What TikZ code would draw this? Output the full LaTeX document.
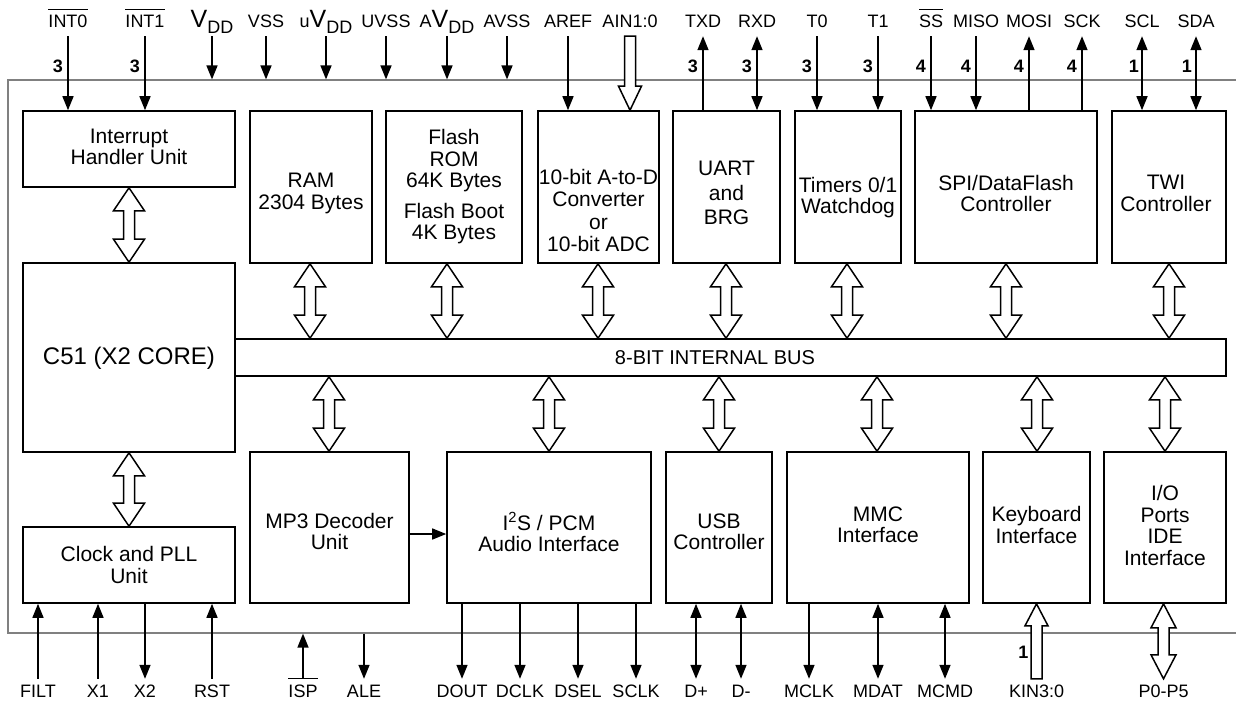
\documentclass[tikz,border=0pt]{standalone}
\usepackage{fontspec}
\setmainfont{Liberation Sans}
\usetikzlibrary{arrows.meta,calc}
\newcommand{\ovl}[1]{\sbox0{#1}\rlap{\rule[\dimexpr\ht0+5pt\relax]{\wd0}{1.1pt}}\usebox0}
\newcommand{\vddlbl}[1]{#1{\fontsize{25}{25}\selectfont V}\raisebox{-6pt}{DD}}
\newcommand{\hdbl}[5]{%
  \coordinate (hx) at (#1,0);
  \coordinate (hT) at (#2.south -| hx);
  \coordinate (hB) at (#3.north -| hx);
  \draw[hollow] (hT) -- ++(#4,#5) -- ++({5.5-#4},0) -- ($(hB)+(5.5,-#5)$) -- ++({#4-5.5},0) -- (hB)
     -- ++(-#4,-#5) -- ++({#4-5.5},0) -- ($(hT)+(-5.5,#5)$) -- ++({5.5-#4},0) -- cycle;}
\tikzset{
 box/.style={draw, line width=1.6pt, inner sep=0pt},
 txt/.style={align=center, font=\fontsize{21}{21.5}\selectfont, inner sep=0pt},
 lbltop/.style={font=\fontsize{18}{18}\selectfont, inner xsep=0pt, inner ysep=8.5pt, text depth=0pt, anchor=base},
 lblbot/.style={font=\fontsize{18}{18}\selectfont, inner xsep=0pt, inner ysep=5pt, text depth=0pt, text height=13pt, anchor=base},
 num/.style={font=\fontsize{18}{18}\selectfont\bfseries, inner sep=0pt, anchor=east},
 sig/.style={line width=1.5pt, -{Triangle[length=14pt,width=11pt]}},
 sigb/.style={line width=1.5pt, {Triangle[length=14pt,width=11pt]}-{Triangle[length=14pt,width=11pt]}},
 hollow/.style={line width=1.5pt, fill=white, line join=miter},
 frame/.style={draw=black!50, line width=1.2pt, inner sep=0pt},
}
\begin{document}
\begin{tikzpicture}[x=1pt,y=-1pt]
\fill[white] (0,0) rectangle (1236,702);
\useasboundingbox (0,0) rectangle (1236,702);
% chip outline
\node[frame, minimum width=1242pt, minimum height=553pt] (chip) at (629,356.5) {};
% blocks
\node[box,minimum width=212pt,minimum height=76pt] (int) at (129,149) {};
\node[box,minimum width=122pt,minimum height=152pt] (ram) at (311,187) {};
\node[box,minimum width=136pt,minimum height=152pt] (flash) at (454,187) {};
\node[box,minimum width=121pt,minimum height=152pt] (adc) at (598.5,187) {};
\node[box,minimum width=107pt,minimum height=152pt] (uart) at (726.5,187) {};
\node[box,minimum width=106pt,minimum height=152pt] (tim) at (848,187) {};
\node[box,minimum width=182pt,minimum height=152pt] (spi) at (1006,187) {};
\node[box,minimum width=114pt,minimum height=152pt] (twi) at (1169,187) {};
\node[box,minimum width=212pt,minimum height=189pt] (c51) at (129,357.5) {};
\node[box,minimum width=991pt,minimum height=37pt] (bus) at (730.5,357.5) {};
\node[box,minimum width=159pt,minimum height=151pt] (mp3) at (329.5,527.5) {};
\node[box,minimum width=204pt,minimum height=151pt] (i2s) at (549,527.5) {};
\node[box,minimum width=106pt,minimum height=151pt] (usb) at (719,527.5) {};
\node[box,minimum width=182pt,minimum height=151pt] (mmc) at (878,527.5) {};
\node[box,minimum width=107pt,minimum height=151pt] (kbd) at (1036.5,527.5) {};
\node[box,minimum width=122pt,minimum height=151pt] (io) at (1165,527.5) {};
\node[box,minimum width=212pt,minimum height=76pt] (clock) at (129,565) {};
% block texts
\node[txt] (int-t) at (129,147) {Interrupt\\Handler Unit};
\node[txt] (ram-t) at (311,193.6) {RAM\\2304 Bytes};
\node[txt] (flash-t) at (454,186.7) {Flash\\ROM\\64K Bytes\\[9pt]Flash Boot\\4K Bytes};
\node[txt] (adc-t) at (598.5,210.5) {10-bit A-to-D\\[1pt]Converter\\[1pt]or\\[1pt]10-bit ADC};
\node[txt] (uart-t) at (726.5,193) {UART\\[3pt]and\\[3pt]BRG};
\node[txt] (tim-t) at (848,197.7) {Timers 0/1\\Watchdog};
\node[txt] (spi-t) at (1006,193.4) {SPI/DataFlash\\Controller};
\node[txt] (twi-t) at (1166,193.4) {TWI\\Controller};
\node[txt,font=\fontsize{24}{24}\selectfont] (c51-t) at (129,358) {C51 (X2 CORE)};
\node[txt,font=\fontsize{20}{20}\selectfont] (bus-t) at (715,357.5) {8-BIT INTERNAL BUS};
\node[txt] (mp3-t) at (329.5,531.6) {MP3 Decoder\\Unit};
\node[txt] (i2s-t) at (549,532) {I\textsuperscript{2}S / PCM\\Audio Interface};
\node[txt] (usb-t) at (719,532) {USB\\Controller};
\node[txt] (mmc-t) at (878,525) {MMC\\Interface};
\node[txt] (kbd-t) at (1036.5,525) {Keyboard\\Interface};
\node[txt] (io-t) at (1165,525.5) {I/O\\Ports\\IDE\\Interface};
\node[txt] (clock-t) at (129,565) {Clock and PLL\\Unit};
% top pin labels
\node[lbltop] (l-int0) at (68,27.5) {\ovl{INT0}};
\node[lbltop] (l-int1) at (145,27.5) {\ovl{INT1}};
\node[lbltop] (l-vdd) at (212,27.5) {\vddlbl{}};
\node[lbltop] (l-vss) at (266,27.5) {VSS};
\node[lbltop] (l-uvdd) at (326,27.5) {\vddlbl{u}};
\node[lbltop] (l-uvss) at (386,27.5) {UVSS};
\node[lbltop] (l-avdd) at (447,27.5) {\vddlbl{A}};
\node[lbltop] (l-avss) at (507,27.5) {AVSS};
\node[lbltop] (l-aref) at (568,27.5) {AREF};
\node[lbltop] (l-ain) at (630,27.5) {AIN1:0};
\node[lbltop] (l-txd) at (703,27.5) {TXD};
\node[lbltop] (l-rxd) at (757,27.5) {RXD};
\node[lbltop] (l-t0) at (817,27.5) {T0};
\node[lbltop] (l-t1) at (878,27.5) {T1};
\node[lbltop] (l-ss) at (931,27.5) {\ovl{SS}};
\node[lbltop] (l-miso) at (976,27.5) {MISO};
\node[lbltop] (l-mosi) at (1029,27.5) {MOSI};
\node[lbltop] (l-sck) at (1082,27.5) {SCK};
\node[lbltop] (l-scl) at (1142,27.5) {SCL};
\node[lbltop] (l-sda) at (1196,27.5) {SDA};
% bottom pin labels
\node[lblbot] (l-filt) at (38,697) {FILT};
\node[lblbot] (l-x1) at (98,697) {X1};
\node[lblbot] (l-x2) at (145,697) {X2};
\node[lblbot] (l-rst) at (212,697) {RST};
\node[lblbot] (l-isp) at (303,697) {\ovl{ISP}};
\node[lblbot] (l-ale) at (364,697) {ALE};
\node[lblbot] (l-dout) at (462,697) {DOUT};
\node[lblbot] (l-dclk) at (520,697) {DCLK};
\node[lblbot] (l-dsel) at (578,697) {DSEL};
\node[lblbot] (l-sclk) at (636,697) {SCLK};
\node[lblbot] (l-dp) at (696,697) {D+};
\node[lblbot] (l-dm) at (741,697) {D-};
\node[lblbot] (l-mclk) at (809,697) {MCLK};
\node[lblbot] (l-mdat) at (878,697) {MDAT};
\node[lblbot] (l-mcmd) at (945,697) {MCMD};
\node[lblbot] (l-kin) at (1036.5,697) {KIN3:0};
\node[lblbot] (l-p) at (1163.5,697) {P0-P5};
% bus widths
\node[num] (n-int0) at (63,66) {3};
\node[num] (n-int1) at (140,66) {3};
\node[num] (n-txd) at (698,66) {3};
\node[num] (n-rxd) at (752,66) {3};
\node[num] (n-t0) at (812,66) {3};
\node[num] (n-t1) at (873,66) {3};
\node[num] (n-ss) at (926,66) {4};
\node[num] (n-miso) at (971,66) {4};
\node[num] (n-mosi) at (1024,66) {4};
\node[num] (n-sck) at (1077,66) {4};
\node[num] (n-scl) at (1139,66) {1};
\node[num] (n-sda) at (1192,66) {1};
\node[num] (n-kin) at (1028.5,652) {1};
% top signals
\draw[sig] (l-int0.south) -- (l-int0.south |- int.north);
\draw[sig] (l-int1.south) -- (l-int1.south |- int.north);
\draw[sig] (l-vdd.south) -- (l-vdd.south |- chip.north);
\draw[sig] (l-vss.south) -- (l-vss.south |- chip.north);
\draw[sig] (l-uvdd.south) -- (l-uvdd.south |- chip.north);
\draw[sig] (l-uvss.south) -- (l-uvss.south |- chip.north);
\draw[sig] (l-avdd.south) -- (l-avdd.south |- chip.north);
\draw[sig] (l-avss.south) -- (l-avss.south |- chip.north);
\draw[sig] (l-aref.south) -- (l-aref.south |- adc.north);
\draw[sig] (l-txd.south |- uart.north) -- (l-txd.south);
\draw[sigb] (l-rxd.south) -- (l-rxd.south |- uart.north);
\draw[sig] (l-t0.south) -- (l-t0.south |- tim.north);
\draw[sig] (l-t1.south) -- (l-t1.south |- tim.north);
\draw[sig] (l-ss.south) -- (l-ss.south |- spi.north);
\draw[sig] (l-miso.south) -- (l-miso.south |- spi.north);
\draw[sig] (l-mosi.south |- spi.north) -- (l-mosi.south);
\draw[sig] (l-sck.south |- spi.north) -- (l-sck.south);
\draw[sigb] (l-scl.south) -- (l-scl.south |- twi.north);
\draw[sigb] (l-sda.south) -- (l-sda.south |- twi.north);
% AIN hollow arrow
\coordinate (ainT) at (l-ain.south);
\coordinate (ainB) at (l-ain.south |- adc.north);
\draw[hollow] ($(ainT)+(-5.5,0)$) -- ($(ainB)+(-5.5,-24)$) -- ++(-6,0) -- (ainB) -- ++(11.5,-24) -- ++(-6,0) -- ($(ainT)+(5.5,0)$) -- cycle;
% bottom signals
\draw[sig] (l-filt.north) -- (l-filt.north |- clock.south);
\draw[sig] (l-x1.north) -- (l-x1.north |- clock.south);
\draw[sig] (l-x2.north |- clock.south) -- (l-x2.north);
\draw[sig] (l-rst.north) -- (l-rst.north |- clock.south);
\draw[sig] (l-isp.north) -- (l-isp.north |- chip.south);
\draw[sig] (l-ale.north |- chip.south) -- (l-ale.north);
\draw[sig] (l-dout.north |- i2s.south) -- (l-dout.north);
\draw[sig] (l-dclk.north |- i2s.south) -- (l-dclk.north);
\draw[sig] (l-dsel.north |- i2s.south) -- (l-dsel.north);
\draw[sig] (l-sclk.north |- i2s.south) -- (l-sclk.north);
\draw[sigb] (l-dp.north |- usb.south) -- (l-dp.north);
\draw[sigb] (l-dm.north |- usb.south) -- (l-dm.north);
\draw[sig] (l-mclk.north |- mmc.south) -- (l-mclk.north);
\draw[sigb] (l-mdat.north |- mmc.south) -- (l-mdat.north);
\draw[sigb] (l-mcmd.north |- mmc.south) -- (l-mcmd.north);
% KIN hollow arrow
\coordinate (kinB) at (l-kin.north);
\coordinate (kinT) at (l-kin.north |- kbd.south);
\draw[hollow] (kinT) -- ++(11.5,22) -- ++(-6,0) -- ($(kinB)+(5.5,0)$) -- ++(-11,0) -- ($(kinT)+(-5.5,22)$) -- ++(-6,0) -- cycle;
% P0-P5 hollow double arrow
\hdbl{1163.5}{io}{l-p}{12.5}{24}
% MP3 to I2S
\draw[sig] ([yshift=-6.5pt]mp3.east) -- ([yshift=-6.5pt]i2s.west);
% internal hollow double arrows
\hdbl{129}{int}{c51}{15.5}{23}
\hdbl{129}{c51}{clock}{15.5}{23}
\hdbl{310}{ram}{bus}{15.5}{23}
\hdbl{447}{flash}{bus}{15.5}{23}
\hdbl{598}{adc}{bus}{15.5}{23}
\hdbl{726}{uart}{bus}{15.5}{23}
\hdbl{847}{tim}{bus}{15.5}{23}
\hdbl{1006}{spi}{bus}{15.5}{23}
\hdbl{1169}{twi}{bus}{15.5}{23}
\hdbl{329}{bus}{mp3}{15.5}{23}
\hdbl{549}{bus}{i2s}{15.5}{23}
\hdbl{719}{bus}{usb}{15.5}{23}
\hdbl{877}{bus}{mmc}{15.5}{23}
\hdbl{1037}{bus}{kbd}{15.5}{23}
\hdbl{1165}{bus}{io}{15.5}{23}
\end{tikzpicture}
\end{document}
